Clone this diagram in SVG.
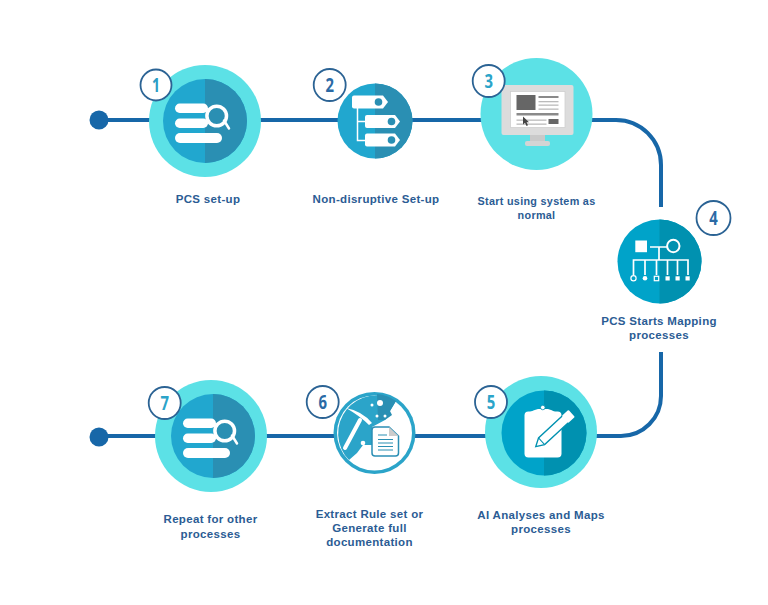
<svg xmlns="http://www.w3.org/2000/svg" width="768" height="605" viewBox="0 0 768 605">
<style>
.lbl{font-family:"Liberation Sans",Arial,sans-serif;font-weight:700;font-size:11.5px;letter-spacing:.32px;fill:#2b5c94;text-anchor:middle}
.sm{font-size:10.8px;letter-spacing:.3px}
.num{font-family:"Open Sans","Liberation Sans",sans-serif;font-weight:700;font-size:20px;text-anchor:middle}
.badge{fill:#fff;stroke:#2b6394;stroke-width:1.800}
.conn{fill:none;stroke:#1767a8;stroke-width:4}
.out{fill:#5ce1e6}
.w{fill:#fff}
.ws{fill:none;stroke:#fff}
</style>
<defs>
<g id="dbicon">
<circle r="42" fill="#21a7cf"/>
<path d="M0-42A42 42 0 0 1 0 42Z" fill="#2a8fb3"/>
<rect x="-30" y="-17.500" width="33" height="9.500" rx="4.700" class="w"/>
<rect x="-30" y="-2.500" width="33" height="9.500" rx="4.700" class="w"/>
<rect x="-30" y="12" width="47" height="10" rx="5" class="w"/>
<circle cx="11.700" cy="-5" r="9.800" fill="#2a8fb3" stroke="#fff" stroke-width="3.500"/>
<path d="M19-.5L24 7.500" stroke="#fff" stroke-width="2.500" stroke-linecap="round"/>
</g>
</defs>
<rect width="768" height="605" fill="#fff"/>
<g id="connectors">
<path class="conn" d="M99 120H616A45 45 0 0 1 661 165V207"/>
<path class="conn" d="M661 352V396A40 40 0 0 1 621 436H99"/>
</g>
<g id="start-dot"><circle cx="99" cy="120" r="9.500" fill="#1767a8"/></g>
<g id="end-dot"><circle cx="99" cy="437" r="9.500" fill="#1767a8"/></g>
<g id="node-1">
<circle class="out" cx="205" cy="121" r="56"/>
<use href="#dbicon" x="205" y="121"/>
<circle class="badge" cx="156" cy="85" r="15.500"/>
<text class="num" x="156" y="92" fill="#2b9cc4" textLength="8" lengthAdjust="spacingAndGlyphs">1</text>
<text class="lbl" x="208" y="203">PCS set-up</text>
</g>
<g id="node-2">
<circle cx="375" cy="121" r="37.500" fill="#21a7cf"/>
<path d="M375 83.500A37.500 37.500 0 0 1 375 158.500Z" fill="#2a8fb3"/>
<path class="ws" stroke-width="1.500" d="M357.500 108V140.500H366M357.500 121.500H366"/>
<path class="w" d="M354 95.500H383L388 102L383 108.500H354Q352 108.500 352 106.500V97.500Q352 95.500 354 95.500Z"/>
<path class="w" d="M367 115H395L400 121.500L395 128H367Q365 128 365 126V117Q365 115 367 115Z"/>
<path class="w" d="M367 133.500H395L400 140L395 146.500H367Q365 146.500 365 144.500V135.500Q365 133.500 367 133.500Z"/>
<circle cx="378.500" cy="102" r="3.800" fill="#2a8fb3"/>
<circle cx="391.500" cy="121.500" r="3.800" fill="#2a8fb3"/>
<circle cx="391.500" cy="140" r="3.800" fill="#2a8fb3"/>
<circle class="badge" cx="329.700" cy="85" r="16"/>
<text class="num" x="329.700" y="92" fill="#2b6aa5" textLength="8.500" lengthAdjust="spacingAndGlyphs">2</text>
<text class="lbl" x="376" y="203">Non-disruptive Set-up</text>
</g>
<g id="node-3">
<circle class="out" cx="536.500" cy="114" r="56"/>
<rect x="501.500" y="85" width="72" height="50" rx="2" fill="#dcdcdc"/>
<rect x="510.500" y="91.500" width="54.500" height="36" fill="#fff" stroke="#cfcfcf" stroke-width=".8"/>
<rect x="516.500" y="95" width="19" height="15" fill="#666"/>
<rect x="538.500" y="96" width="20" height="2" fill="#8a8a8a"/>
<rect x="538.500" y="101" width="20" height="1.300" fill="#bbb"/>
<rect x="538.500" y="104.500" width="20" height="1.300" fill="#bbb"/>
<rect x="538.500" y="108.500" width="20" height="1.300" fill="#bbb"/>
<rect x="516.500" y="113" width="42" height="2.500" fill="#8a8a8a"/>
<rect x="516.500" y="119.500" width="30" height="1.300" fill="#bbb"/>
<rect x="516.500" y="123.500" width="30" height="1.300" fill="#bbb"/>
<rect x="548.500" y="119" width="10" height="5" fill="#666"/>
<path d="M523 116.500V124.500L525 122.700L526.500 126L528 125.300L526.600 122.200H529Z" fill="#444"/>
<rect x="530" y="135" width="15" height="7" fill="#c9c9c9"/>
<rect x="525" y="141" width="25" height="5" rx="2" fill="#d4d4d4"/>
<circle class="badge" cx="488.700" cy="81" r="16"/>
<text class="num" x="488.700" y="88" fill="#2ba4c9" textLength="8.500" lengthAdjust="spacingAndGlyphs">3</text>
<text class="lbl sm" x="536.500" y="205">Start using system as</text>
<text class="lbl sm" x="536.500" y="219">normal</text>
</g>
<g id="node-4">
<circle cx="659.500" cy="261.500" r="42" fill="#00a3c9"/>
<path d="M659.500 219.500A42 42 0 0 1 659.500 303.500Z" fill="#0091b0"/>
<rect x="635.300" y="240.500" width="11.700" height="11.700" class="w"/>
<circle cx="673.300" cy="246" r="6.200" class="ws" stroke-width="2"/>
<path class="ws" stroke-width="1.700" d="M650 247H667M659 247V260M633.500 275V260H688V275M645 260V275M656.500 260V275M667.500 260V275M677.500 260V275"/>
<circle cx="633.500" cy="278.300" r="2.600" class="ws" stroke-width="1.200"/>
<circle cx="645" cy="278.300" r="2.300" class="w"/>
<rect x="654.300" y="276.300" width="4.400" height="4.400" class="ws" stroke-width="1.200"/>
<rect x="665.500" y="276.300" width="4.200" height="4.200" class="w"/>
<rect x="675.500" y="276.300" width="4.200" height="4.200" class="w"/>
<rect x="685.500" y="276.300" width="4.200" height="4.200" class="w"/>
<circle class="badge" cx="713.500" cy="218" r="17"/>
<text class="num" x="713.500" y="225" fill="#2b6aa5" textLength="8.500" lengthAdjust="spacingAndGlyphs">4</text>
<text class="lbl" x="659" y="325">PCS Starts Mapping</text>
<text class="lbl" x="659" y="339">processes</text>
</g>
<g id="node-5">
<circle class="out" cx="541" cy="432" r="56"/>
<circle cx="544" cy="433" r="42.500" fill="#00a3c9"/>
<path d="M544 390.500A42.500 42.500 0 0 1 544 475.500Z" fill="#0091b0"/>
<rect x="524.500" y="411.500" width="37" height="46" rx="4" class="w"/>
<path class="w" d="M530 412Q534 410 538 409H548Q552 410 555 412Z"/>
<circle cx="542.800" cy="407.500" r="2.300" fill="#fff" stroke="#0091b0" stroke-width=".8"/>
<g transform="translate(535.700 446.700) rotate(-42.800)">
<path d="M0 0L8-4.500H48V4.500H8Z" fill="#fff" stroke="#0091b0" stroke-width="1.300"/>
<path d="M8-4.500V4.500" stroke="#0091b0" stroke-width="1"/>
<rect x="40" y="-4.800" width="9" height="9.600" rx="1" fill="#fff"/>
</g>
<circle class="badge" cx="491" cy="402" r="16"/>
<text class="num" x="491" y="409" fill="#2ba4c9" textLength="8.500" lengthAdjust="spacingAndGlyphs">5</text>
<text class="lbl" x="541" y="519">AI Analyses and Maps</text>
<text class="lbl" x="541" y="533">processes</text>
</g>
<g id="node-6">
<circle cx="374.500" cy="433" r="41" fill="#2ba4c9"/>
<circle cx="374.500" cy="433" r="37.500" fill="#fff"/>
<path d="M396 401A38 38 0 0 0 349 460L357 453L363 445L372 445V427L385 420L390 411Z" fill="#2ba4c9"/>
<path d="M377 394A38 38 0 0 1 396 401L390 411L392 415L385 420H378Z" fill="#2a8fb3"/>
<circle cx="372" cy="405" r="1.500" class="w"/><circle cx="380" cy="403" r="3" class="w"/><circle cx="377" cy="416" r="1.500" class="w"/><circle cx="385" cy="416" r="1.500" class="w"/><circle cx="363" cy="443" r="2.300" class="w"/>
<path d="M346 408Q362 411 372 423L369 425Q360 416 346 408Z" class="w"/>
<path d="M360 420L345 448" stroke="#fff" stroke-width="4" stroke-linecap="round"/>
<path d="M375 427H389L398.500 436V453Q398.500 456 395.500 456H375Q372 456 372 453V430Q372 427 375 427Z" fill="#fff" stroke="#2b8fb5" stroke-width="1.500"/>
<path d="M389 427V436H398.500Z" fill="#ccc"/>
<path d="M378 435H387M378 439.500H393M378 443H393M378 446.500H393M378 450H393" stroke="#2a8fb3" stroke-width="1.200"/>
<circle class="badge" cx="322.700" cy="402" r="16"/>
<text class="num" x="322.700" y="409" fill="#2b6aa5" textLength="8.500" lengthAdjust="spacingAndGlyphs">6</text>
<text class="lbl" x="369.500" y="518">Extract Rule set or</text>
<text class="lbl" x="369.500" y="532">Generate full</text>
<text class="lbl" x="369.500" y="546">documentation</text>
</g>
<g id="node-7">
<circle class="out" cx="211" cy="436" r="56"/>
<use href="#dbicon" x="213" y="436"/>
<circle class="badge" cx="164.700" cy="403" r="16"/>
<text class="num" x="164.700" y="410" fill="#2ba4c9" textLength="8.500" lengthAdjust="spacingAndGlyphs">7</text>
<text class="lbl" x="210.500" y="523">Repeat for other</text>
<text class="lbl" x="210.500" y="538">processes</text>
</g>
</svg>
